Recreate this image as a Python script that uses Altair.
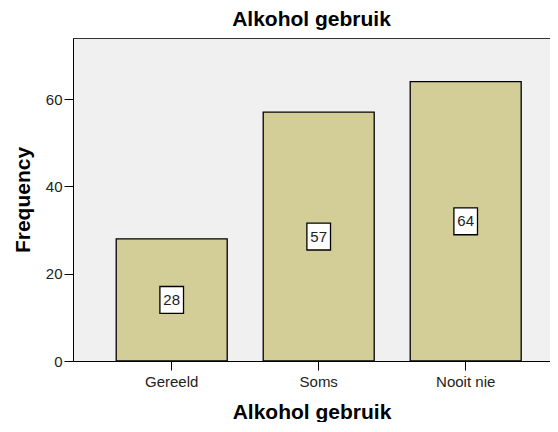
import altair as alt
import pandas as pd

categories = ["Gereeld", "Soms", "Nooit nie"]
counts = [28, 57, 64]

df = pd.DataFrame({"cat": categories, "count": counts})
df["mid"] = df["count"] / 2

FONT = "Liberation Sans"

x_enc = alt.X("cat:N", sort=categories, title="Alkohol gebruik",
              scale=alt.Scale(paddingInner=0.245, paddingOuter=0.245, align=0.6),
              axis=alt.Axis(labelAngle=0, labelFontSize=15, labelColor="#222",
                            labelFont=FONT, titleFont=FONT, titleFontSize=21,
                            titleFontWeight="bold", titleColor="#000",
                            titlePadding=12, tickSize=9, tickColor="#000",
                            domainColor="#000", labelPadding=4))

bars = alt.Chart(df).mark_bar(color="#D3CE98", stroke="#000", strokeWidth=1.3).encode(
    x=x_enc,
    y=alt.Y("count:Q", title="Frequency",
            scale=alt.Scale(domain=[0, 74], nice=False),
            axis=alt.Axis(values=[0, 20, 40, 60], grid=False, labelFontSize=15,
                          labelColor="#222", labelFont=FONT, titleFont=FONT,
                          titleFontSize=21, titleFontWeight="bold",
                          titleColor="#000", titlePadding=12, tickSize=9,
                          tickColor="#000", domainColor="#000", labelPadding=2)),
)

boxes = alt.Chart(df).mark_point(
    shape="M-0.88,-1L0.88,-1L0.88,1L-0.88,1Z", filled=True, fill="#fff",
    stroke="#000", strokeWidth=1.3, opacity=1, size=720,
).encode(x=alt.X("cat:N", sort=categories), y="mid:Q")

labels = alt.Chart(df).mark_text(font=FONT, fontSize=15, color="#222").encode(
    x=alt.X("cat:N", sort=categories), y="mid:Q", text="count:Q")

chart = (bars + boxes + labels).properties(
    width=477, height=323,
    title=alt.Title("Alkohol gebruik", font=FONT, fontSize=21, fontWeight="bold",
                    color="#000", offset=8),
    padding={"left": 4, "top": 1, "right": 0, "bottom": 0},
    background="#fff",
).configure_view(fill="#F0F0F0", stroke="#333", strokeWidth=1)

chart.save("out.html", embed_options={"renderer": "svg", "actions": False})
